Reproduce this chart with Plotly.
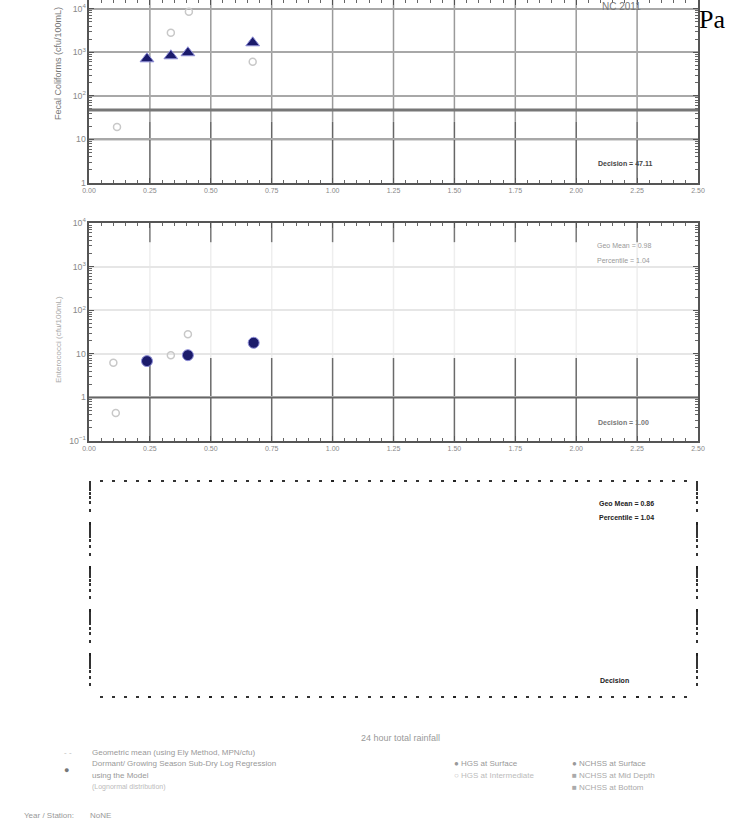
import plotly.graph_objects as go

W, H = 731, 823

# ---- data ----
x_ticks = [0.00, 0.25, 0.50, 0.75, 1.00, 1.25, 1.50, 1.75, 2.00, 2.25, 2.50]
x_tick_labels = ["0.00", "0.25", "0.50", "0.75", "1.00", "1.25", "1.50", "1.75", "2.00", "2.25", "2.50"]

fc_rain_main = [0.238, 0.336, 0.406, 0.672]
fc_main = [708, 830, 975, 1650]
fc_rain_other = [0.336, 0.41, 0.672, 0.115]
fc_other = [2800, 8500, 603, 19.4]
fc_decision = 47.11

ent_rain_main = [0.238, 0.406, 0.676]
ent_main = [6.8, 9.3, 17.9]
ent_rain_other = [0.406, 0.336, 0.10, 0.11]
ent_other = [28, 9.3, 6.2, 0.44]
ent_decision = 1.0

def py(px):
    return 1 - px / H

def pxx(px):
    return px / W

XD = [pxx(89), pxx(698)]
fig = go.Figure()

NAVY = "#1b1b6b"
LIGHT = "#c8c8c8"

tickfont = dict(family="Liberation Sans, Arial", size=7, color="#888")

def xax(domain_anchor, labels=True, dots=False):
    d = dict(domain=XD, anchor=domain_anchor, range=[0, 2.5], tickvals=x_ticks,
             ticktext=x_tick_labels, showticklabels=labels, automargin=False,
             showgrid=False, zeroline=False,
             showline=not dots, linecolor="#555", linewidth=1.5, mirror="ticks",
             ticks="inside", ticklen=5, tickcolor="#555", tickfont=tickfont,
             minor=dict(dtick=0.05, ticks="inside", ticklen=3, tickcolor="#666", showgrid=False))
    if dots:
        d.update(ticks="inside", ticklen=2, tickwidth=2.5, tickcolor="#222",
                 minor=dict(dtick=0.05, ticks="inside", ticklen=2, tickwidth=2.5, tickcolor="#333", showgrid=False))
    return d

def yax(domain, rng, anchor, grid=True, gridcolor="#a0a0a0", labels=True, dots=False):
    d = dict(domain=domain, anchor=anchor, type="log", range=rng, dtick=1,
             exponentformat="power", showticklabels=labels, automargin=False,
             showgrid=grid, gridcolor=gridcolor, gridwidth=1.5, zeroline=False,
             showline=not dots, linecolor="#555", linewidth=1.5, mirror="ticks",
             ticks="inside", ticklen=5, tickcolor="#555", tickfont=tickfont,
             minor=dict(ticks="inside", ticklen=3, tickcolor="#666", showgrid=False))
    if dots:
        d.update(ticklen=2, tickwidth=2.5, tickcolor="#222",
                 minor=dict(ticks="inside", ticklen=2, tickwidth=2.5, tickcolor="#333", showgrid=False))
    return d

fig.update_layout(
    width=W, height=H, margin=dict(l=0, r=0, t=0, b=0, autoexpand=False),
    paper_bgcolor="white", plot_bgcolor="white",
    xaxis=xax("y"),
    yaxis=yax([py(183), 1.0], [0, 4.2], "x", gridcolor="#a8a8a8"),
    xaxis2=xax("y2"),
    yaxis2=yax([py(441), py(223)], [-1, 4], "x2", gridcolor="#e6e6e6"),
    xaxis3=xax("y3", labels=False, dots=True),
    yaxis3=yax([py(698), py(480)], [-1, 4], "x3", grid=False, labels=False, dots=True),
)

shapes = []
# vertical grid lines: darker in the lower (well-scanned) part, faded in the upper part
for t in x_ticks[1:-1]:
    shapes.append(dict(type="line", xref="x", yref="y", x0=t, x1=t, y0=1, y1=25.2,
                       line=dict(color="#666", width=1.5), layer="below"))
    shapes.append(dict(type="line", xref="x", yref="y", x0=t, x1=t, y0=25.2, y1=10 ** 4.2,
                       line=dict(color="#9a9a9a", width=1.5), layer="below"))
    shapes.append(dict(type="line", xref="x2", yref="y2", x0=t, x1=t, y0=0.1, y1=8.0,
                       line=dict(color="#6a6a6a", width=1.5), layer="below"))
    shapes.append(dict(type="line", xref="x2", yref="y2", x0=t, x1=t, y0=8.0, y1=3630,
                       line=dict(color="#eeeeee", width=1.5), layer="below"))
    shapes.append(dict(type="line", xref="x2", yref="y2", x0=t, x1=t, y0=3630, y1=10 ** 4,
                       line=dict(color="#777", width=1.5), layer="below"))
# decade line at 10 in panel 1 (dark, below the fade)
shapes.append(dict(type="line", xref="x", yref="y", x0=0, x1=2.5, y0=10, y1=10,
                   line=dict(color="#666", width=1.5), layer="below"))
# decision lines
shapes.append(dict(type="line", xref="x", yref="y", x0=0, x1=2.5, y0=fc_decision, y1=fc_decision,
                   line=dict(color="#777", width=3)))
shapes.append(dict(type="line", xref="x2", yref="y2", x0=0, x1=2.5, y0=ent_decision, y1=ent_decision,
                   line=dict(color="#666", width=2)))
fig.update_layout(shapes=shapes)

# panel 1
fig.add_trace(go.Scatter(x=fc_rain_other, y=fc_other, mode="markers", xaxis="x", yaxis="y",
                         marker=dict(symbol="circle-open", size=7, color=LIGHT, line=dict(width=1.5)),
                         showlegend=False))
fig.add_trace(go.Scatter(x=fc_rain_main, y=fc_main, mode="markers", xaxis="x", yaxis="y",
                         marker=dict(symbol="triangle-up", size=12, color=NAVY,
                                     line=dict(color="#8f8fd8", width=1)),
                         showlegend=False))
# panel 2
fig.add_trace(go.Scatter(x=ent_rain_other, y=ent_other, mode="markers", xaxis="x2", yaxis="y2",
                         marker=dict(symbol="circle-open", size=7, color=LIGHT, line=dict(width=1.5)),
                         showlegend=False))
fig.add_trace(go.Scatter(x=ent_rain_main, y=ent_main, mode="markers", xaxis="x2", yaxis="y2",
                         marker=dict(symbol="circle", size=11, color=NAVY,
                                     line=dict(color="#8f8fd8", width=1)),
                         showlegend=False))
# panel 3 (empty)
fig.add_trace(go.Scatter(x=[None], y=[None], mode="markers", xaxis="x3", yaxis="y3", showlegend=False))

ann = []
def txt(x, y, s, size=8, color="#888", xanchor="left", yanchor="middle", angle=0, family="Liberation Sans, Arial", bold=False):
    ann.append(dict(xref="paper", yref="paper", x=pxx(x), y=py(y), text=("<b>%s</b>" % s) if bold else s,
                    showarrow=False, xanchor=xanchor, yanchor=yanchor, textangle=angle,
                    font=dict(size=size, color=color, family=family)))

# axis titles
txt(58, 64, "Fecal Coliforms (cfu/100mL)", size=9, color="#777", xanchor="center", angle=-90)
txt(58, 340, "Enterococci (cfu/100mL)", size=8, color="#aaa", xanchor="center", angle=-90)
# in-plot texts
txt(596, 163, "Decision = %.2f" % fc_decision, size=7, color="#444", bold=True)
txt(595, 246, "Geo Mean = 0.98", size=7, color="#999")
txt(595, 260, "Percentile = 1.04", size=7, color="#999")
txt(596, 422, "Decision = %.2f" % ent_decision, size=7, color="#777", bold=True)
txt(597, 503, "Geo Mean = 0.86", size=7, color="#222", bold=True)
txt(597, 517, "Percentile = 1.04", size=7, color="#222", bold=True)
txt(598, 680, "Decision", size=7, color="#222", bold=True)
# header bits
txt(600, 7, "NC 2011", size=10, color="#777")
txt(697, 20, "Pa", size=26, color="black", family="Liberation Serif, Times New Roman")
# x-axis title and legend
txt(400, 738, "24 hour total rainfall", size=9, color="#999", xanchor="center")
txt(62, 752, "- -", size=8, color="#bbb")
txt(90, 752, "Geometric mean (using Ely Method, MPN/cfu)", size=8, color="#999")
txt(66, 770, "●", size=9, color="#777", xanchor="center")
txt(90, 763, "Dormant/ Growing Season Sub-Dry Log Regression", size=8, color="#999")
txt(90, 775, "using the Model", size=8, color="#999")
txt(90, 787, "(Lognormal distribution)", size=7, color="#bbb")
txt(22, 815, "Year / Station:", size=8, color="#999")
txt(88, 815, "NoNE", size=8, color="#999")
txt(452, 763, "● HGS at Surface", size=8, color="#999")
txt(452, 775, "○ HGS at Intermediate", size=8, color="#bbb")
txt(570, 763, "● NCHSS at Surface", size=8, color="#999")
txt(570, 775, "■ NCHSS at Mid Depth", size=8, color="#aaa")
txt(570, 787, "■ NCHSS at Bottom", size=8, color="#aaa")
fig.update_layout(annotations=ann)

fig.write_html("out.html")
